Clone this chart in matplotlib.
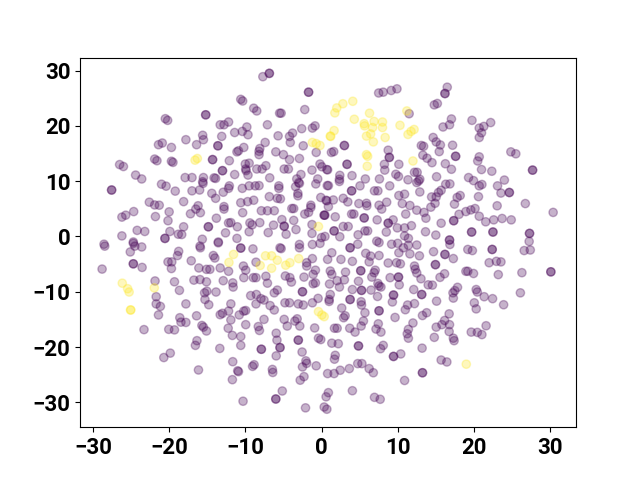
import numpy as np
import matplotlib
matplotlib.use("Agg")
import matplotlib.pyplot as plt

plt.rcParams['font.family'] = ['Roboto', 'DejaVu Sans']

# points, a pair listed twice is a darker dot
purple_upper_left = [
    (-6.85, 29.5), (-6.85, 29.5), (-7.7, 28.9), (-1.7, 26.1), (-1.7, 26.1), (-10.6, 24.8), (-10.35, 24.5),
    (-8.9, 23.2), (-8.5, 22.7), (-5.5, 22.3), (-5.3, 22.3), (-2.2, 22.95), (-15.2, 22.0), (-15.2, 22.0),
    (-20.5, 21.3), (-20.2, 21.0), (-13.3, 20.2), (-12.8, 20.2), (-12.2, 20.7), (-9.8, 19.8), (-7.1, 20.2),
    (-11.4, 18.8), (-10.4, 19.0), (-9.65, 18.4), (-5.7, 18.2), (-4.2, 18.1), (-3.8, 18.7), (-4.1, 17.0),
    (-2.6, 19.5), (-1.2, 19.6), (-0.85, 20), (-17.8, 17.5), (-15.6, 18.3), (-15.5, 17.5), (-13.1, 18.1),
    (-20.9, 16.9), (-21.4, 16.6), (-19.7, 16.1), (-16.4, 16.6), (-13.6, 16.4), (-13.6, 16.4), (-10.2, 16.1),
    (-10.9, 15.5), (-11.1, 15.3), (-7.4, 17.0), (-8.1, 15.9), (-8.2, 15.4), (-8.2, 14.8), (-6, 15.3),
    (-5, 14.8), (-4.2, 13.9), (-2.4, 16.4), (-0.7, 15.2), (-2.9, 14.1), (-21.9, 14.0), (-21.6, 13.7),
    (-19.7, 13.6), (-19.5, 13.4), (-14.3, 13.9), (-14.3, 13.9), (-12.1, 13.7), (-26.5, 13), (-26, 12.65),
    (-13, 11.9), (-13, 11.9), (-10, 13.1), (-9.5, 13.25), (-9.95, 12.2), (-9.9, 11.9), (-8.5, 12.2),
    (-7.8, 12.2), (-7.3, 12.8), (-4.9, 12.2), (-4.35, 12.2), (-0.2, 13.1), (0.05, 12.6), (-1.25, 12),
    (0.7, 12.1), (-11.4, 11.2), (-9.65, 11.1), (-24.4, 11.1), (-23.6, 10.4), (-17.9, 10.65), (-17, 10.65),
    (-15.5, 10.65), (-15.6, 9.9), (-15.55, 9.6), (-14.1, 10.6), (-13.9, 10.5), (-6.8, 10.6), (-3.25, 10.4),
    (-2.7, 11.2), (-3, 9.75), (-3.4, 9.0), (-2.9, 9.6), (-0.5, 10.4), (-0.75, 9.5), (0.75, 9.2),
    (-21, 9.45), (-20.4, 9.1), (-19.2, 8.2), (-17, 8.25), (-16, 8.4), (-27.55, 8.4), (-27.55, 8.4),
    (-12.1, 9.15), (-12.2, 8.7), (-10.4, 8.7), (-9.5, 9.15), (-8.7, 9.15), (-8.2, 9.2), (-5.6, 9.15),
    (-5.6, 8.7), (-14.4, 7.8), (-13.9, 6.9), (-12.9, 8), (-6.85, 7.2), (-5.8, 6.9), (-5.4, 6.8),
    (-3.1, 7.8), (-3.1, 7.35), (-0.1, 7.05), (0.6, 6.55), (-18.1, 6.3), (-22.6, 6.2), (-21.9, 5.7),
    (-21.3, 5.65), (-16.2, 5.55), (-16.5, 4.95), (-15.9, 4.3), (-12.8, 5.4), (-12.8, 4.95), (-10.6, 6.1),
    (-9.7, 6.3), (-8.9, 6.55), (-3.9, 5.05), (-3.65, 5.05), (-1.4, 5.65), (-1.4, 5.25), (-1.7, 4.35),
    (-2.2, 4.05), (0.9, 5.4), (0.35, 3.85), (0.35, 3.85), (-7.9, 4.65), (-7.1, 4.65), (-6.2, 4.65),
    (-24.65, 4.5), (-25.7, 3.85), (-26.2, 3.5), (-20, 4.45), (-21.8, 3.6), (-20.15, 2.85), (-17.2, 4.1),
    (-10.35, 4.3), (-13.8, 3.3), (-5.2, 3.05), (-3.65, 2.9), (-12.2, 2.45), (-11.9, 2.5), (-9.4, 2.45),
    (-9.1, 2.1), (-8.1, 2.5), (-4.9, 1.85), (-4.9, 1.85), (-6.3, 2.05), (-1.25, 2.15), (-14.85, 1.75),
    (-14.85, 1.75), (-18.1, 1.75), (-11.05, 1.75), (-12.6, 0.65), (-9.5, 0.85), (-7, 0.7), (-4.65, 0.4),
    (-3.35, 1.25), (-1.25, 0.55), (-26.2, 0.1), (-24.2, 1.1), (-23.2, 0.9), (-19.9, 0.9), (-18.8, 0.4),
    (-18.35, 0.35), (-20.55, -0.35), (-20.55, -0.35), (-15.65, -0.5), (-11.1, -0.35), (-13.55, -1), (0, -0.2),
    (0.45, 0), (-24.7, -1), (-28.55, -1.4),
]
purple_upper_right = [
    (16.5, 27), (16.2, 25.85), (16.2, 25.85), (7.5, 25.95), (8.1, 26.1), (9.15, 26.4), (9.9, 26.7),
    (14.8, 23.8), (15.2, 24.05), (11.5, 22.2), (19.75, 21), (17.05, 21.25), (16.8, 20.2), (15.95, 19.8),
    (22.2, 20.6), (21.3, 19.9), (20.7, 19.6), (21.0, 18.75), (20.7, 17.9), (14.65, 17.9), (15.05, 17.1),
    (15.6, 16.55), (17.2, 16.5), (13.1, 16.45), (13.4, 16.3), (15.45, 15.35), (8.75, 15.6), (3, 16.45),
    (3, 16.45), (1.6, 15.35), (1.3, 15.2), (24.85, 15.3), (25.5, 14.95), (13.3, 14.7), (13.85, 14.15),
    (14.5, 13.35), (17.6, 14.5), (17.6, 14.5), (20.7, 14.4), (20.5, 13.65), (8.9, 14.3), (8.9, 14.3),
    (16.25, 13.15), (17.05, 12.15), (21, 12.1), (22.35, 11.8), (27.7, 12), (27.7, 12), (3.35, 13.05),
    (3.35, 13.05), (8.25, 13.05), (8.3, 12), (10.15, 13.05), (0.8, 12.05), (9.75, 11.25), (10.1, 10.85),
    (12.2, 11.6), (12.55, 11.6), (12.9, 10.35), (12.5, 9.75), (12.75, 10.05), (4, 11), (2.4, 11.05),
    (2.35, 10.35), (2.35, 9.95), (5.75, 10.4), (7.6, 10.4), (11.35, 10.25), (15.1, 10.8), (19.3, 10.65),
    (19.95, 10.1), (20.7, 9.15), (21.05, 9.4), (24, 10.2), (23.1, 9.15), (23.55, 7.85), (24.65, 7.95),
    (24.65, 7.95), (16.3, 9.45), (16.85, 9.5), (5.05, 9.15), (8.95, 9.15), (0.9, 9.2), (3.95, 8.25),
    (3.95, 8.25), (6.95, 8.25), (7.4, 8.25), (12.9, 8.05), (15.7, 8.35), (15.35, 7.95), (15.05, 7.15),
    (10.15, 7.4), (10.9, 7.65), (18.2, 7.4), (17.8, 7.05), (20.6, 7.2), (1.55, 6.6), (0.7, 6.45),
    (2.85, 6.9), (3.45, 6.25), (4.9, 5.95), (5.9, 6), (5.95, 5.55), (7.55, 5.65), (7.9, 4.95),
    (8.55, 6.2), (10.6, 5.95), (11.6, 5.6), (12.5, 4.75), (14.45, 7.15), (14.9, 6), (14.35, 5.3),
    (17.45, 5.85), (23.05, 5.55), (26.75, 5.95), (13.45, 4.35), (13.7, 3.3), (11.05, 4.05), (30.4, 4.35),
    (0.45, 3.85), (1.8, 3.55), (3.95, 4.05), (4.25, 4.05), (5.6, 3.35), (5.6, 3.35), (7.3, 3),
    (8.75, 2.4), (8.75, 2.4), (9.4, 3), (18.05, 4), (18.95, 4.5), (19.6, 4.8), (20.15, 5.05),
    (20.7, 3.65), (21.55, 2.65), (22.6, 3), (23.7, 3.25), (24.9, 3), (17.35, 2.85), (17.35, 2.85),
    (15.7, 2.4), (9.95, 1.55), (10.9, 1.55), (11.8, 1.95), (2.85, 1.8), (3.5, 1.8), (1.65, 1),
    (1.65, 1), (5.7, 1), (6.05, 1), (8.5, 0.8), (13.65, 0.85), (15, 0.25), (19.7, 0.8),
    (19.7, 0.8), (22.5, 0.8), (22.5, 0.8), (27.3, 0.55), (27.3, 0.55), (4.8, 0.3), (10.9, 0.1),
    (11.4, -0.35), (2.4, -0.05), (16.8, -0.65), (16.8, -0.65), (7.25, -0.85), (7.55, -1.1), (27.25, -0.9),
]
purple_lower_left = [
    (-28.45, -1.75), (-24.7, -1.25), (-25.1, -2.8), (-24.5, -1.75), (-23.6, -1.9), (-24.7, -4.95), (-24.7, -4.95),
    (-23.55, -5.6), (-28.8, -5.9), (-15.95, -1.75), (-15.9, -2.05), (-13.55, -1.15), (-18.75, -2.7), (-18.9, -3.45),
    (-20.15, -4.6), (-19.65, -4.6), (-19.7, -5.8), (-17.1, -4.4), (-14.2, -3.45), (-14, -3.9), (-10.6, -2.1),
    (-10.6, -2.1), (-9, -2.25), (-16.1, -5.7), (-15.1, -5.95), (-14.65, -5.95), (-13.3, -5.7), (-12.2, -6.3),
    (-10.25, -5.35), (-9.95, -6.1), (-8.6, -4.65), (-10.2, -7.45), (-8.95, -7.45), (-8.6, -7.45), (-7.3, -7.2),
    (-16.75, -7.9), (-15.95, -7.8), (-15.1, -8.2), (-12.9, -8), (-11.65, -8.4), (-11.6, -9.15), (-19.3, -8.2),
    (-21.85, -8.05), (-18.65, -9.75), (-4.75, -7.15), (-4.15, -7.45), (-3.95, -8.25), (-7.1, -8.45), (-2.3, -7.35),
    (-1.95, -4.75), (-1.95, -5.35), (-1.2, -4), (-0.8, -6.1), (-1.1, -6.85), (-1.1, -8.55), (-0.8, -8.4),
    (-5.45, -2.05), (-5.3, -2.2), (-2.9, -1.45), (-2.9, -2.05), (-1.2, -1.45), (-0.2, -1.25), (-2.5, -10),
    (-2.5, -10), (-5.8, -9.7), (-6.2, -10.2), (-15.35, -10.2), (-15.05, -9.9), (-15.3, -11.4), (-13.85, -10.05),
    (-21.7, -10.9), (-21.7, -12.2), (-21.15, -12.65), (-17.8, -12.2), (-14.8, -12.35), (-11.9, -12.2), (-12.2, -13.5),
    (-13, -13.9), (-13.3, -14.15), (-9.3, -10.7), (-8.55, -10.5), (-7.95, -11.25), (-7.55, -11.5), (-8.6, -12.2),
    (-6.75, -12.5), (-6.2, -13.3), (-4.8, -12), (-4.2, -12), (-3.05, -12.2), (-2.4, -12.4), (-1.2, -12),
    (-0.45, -11.2), (-21.4, -14.2), (-16.4, -14.35), (-18.6, -14.7), (-18.45, -15.5), (-17.8, -15.55), (-15.7, -16.1),
    (-15.5, -16.4), (-15.1, -17.1), (-11.9, -15.1), (-10.8, -14.2), (-10.2, -13.5), (-9.95, -13.4), (-9.95, -15.95),
    (-7.55, -15), (-4.9, -15), (-4.5, -16.2), (-3.5, -15.3), (-3.2, -14.9), (-2.85, -16.2), (-8.3, -16.3),
    (-8.15, -17), (-12.25, -16.6), (-23.3, -16.85), (-20.05, -16.8), (-19.3, -16.9), (-11.7, -17.9), (-10.6, -18.1),
    (-16.35, -18.85), (-16.55, -19.7), (-13.35, -20.25), (-10.6, -19.7), (-5.95, -17.5), (-5.85, -18.75), (-3.05, -18.75),
    (-3.05, -18.75), (-0.9, -16.55), (-0.4, -18.4), (-0.1, -18.65), (-7.9, -20.4), (-7.9, -20.4), (-5.45, -20.1),
    (-5.45, -20.1), (-5.95, -21.6), (-2.55, -20.9), (-19.85, -21.1), (-20.7, -21.9), (-11.65, -22.65), (-16.15, -24.15),
    (-11, -24.3), (-10.9, -24.45), (-8.85, -23.2), (-9.05, -23.5), (-6.45, -24.05), (-6.4, -24.6), (-2.05, -22.5),
    (-1.95, -22.95), (-2.5, -23.6), (-0.7, -23.4), (-2.3, -25.35), (-2.8, -26), (-11.7, -25.9), (-5.15, -27.95),
    (-10.3, -29.8), (-6, -29.4), (-6, -29.4), (-2.1, -31), (0.35, -30.85), (0.7, -31.25), (0.9, -28.25),
    (0.6, -29),
]
purple_lower_right = [
    (4.75, -1.4), (3.75, -2.05), (3.75, -2.05), (9.2, -1.4), (10, -1.25), (10.75, -2.05), (11.4, -1.6),
    (12.5, -1.55), (10.15, -2.95), (11.6, -3.15), (12.85, -3.5), (14.7, -2.75), (16.85, -1.45), (16.2, -3.25),
    (16.2, -3.25), (17.3, -4), (19.2, -2.35), (19.8, -2.55), (22.4, -2.35), (22.4, -2.35), (26.6, -2.55),
    (27.4, -2.45), (1.35, -2.95), (0.8, -4.15), (2.55, -4.15), (4.05, -4.5), (5.8, -3.05), (6.45, -3.55),
    (6.25, -4.6), (7.55, -3.45), (8.75, -4.8), (9.85, -4.75), (10.35, -4.95), (12.2, -5.35), (12.3, -5.95),
    (14.95, -5.1), (14.95, -5.1), (22, -4.75), (22.95, -4.5), (23.55, -4.6), (1.15, -6.25), (1.35, -6.85),
    (3.15, -6.45), (5.15, -6.2), (5.15, -6.2), (7.05, -6.1), (6.9, -6.55), (6.6, -7.35), (9, -7.45),
    (10.1, -7.35), (10.1, -7.35), (12.5, -6.6), (13.05, -7.65), (16.15, -6.75), (15.55, -7.4), (18.95, -6.3),
    (19.2, -6.3), (19.95, -6.7), (23.2, -6.9), (26.3, -6.55), (30.1, -6.4), (30.1, -6.4), (4.85, -8.1),
    (2.05, -8), (3, -7.85), (1.05, -8.6), (2.35, -9.15), (4.05, -9.6), (5.25, -9.75), (5.25, -9.75),
    (6.5, -9.7), (7.4, -8.5), (7.8, -9.15), (7.55, -8.95), (10.2, -8.75), (14, -8.75), (14.55, -8.8),
    (12.1, -9.6), (13.15, -10.5), (13.15, -10.5), (17.85, -9.2), (17.5, -9.8), (17.25, -10.2), (17.3, -11.15),
    (20.3, -9.6), (20.45, -10.05), (21.35, -10.9), (22.45, -11.25), (26.1, -10.2), (23.9, -12.35), (20.05, -12),
    (20.3, -13.1), (15.1, -11.7), (1.15, -10.5), (1, -11.4), (1, -11.75), (3.75, -11.4), (3.75, -11.4),
    (7.35, -10.85), (9.45, -10.6), (9.45, -10.6), (9.3, -11.85), (5.2, -11.8), (5.25, -12.4), (11.3, -12.4),
    (11, -13.25), (12.2, -12.15), (2.65, -12.95), (5.7, -13.8), (7.55, -13.45), (7.55, -13.45), (3.1, -14.35),
    (2.9, -14.7), (9.65, -14.65), (16.75, -14), (13.8, -13.8), (13.25, -14.3), (5.5, -15.3), (5.2, -16.2),
    (7.45, -15.8), (7.15, -16.75), (7.8, -17.3), (16.15, -15.2), (15.8, -15.95), (16.8, -15.95), (15.05, -16.4),
    (12, -15.65), (11.4, -16.8), (11.25, -17.6), (11.4, -18.4), (21.6, -16.15), (19.65, -17.3), (20.45, -17.35),
    (21.05, -17.75), (16.75, -17.2), (14.8, -18.25), (17.3, -18.4), (17.4, -18.85), (1.7, -16.6), (2.05, -16.6),
    (3.7, -16.6), (4.4, -17.3), (1.35, -19.3), (2.2, -19.4), (4.85, -19.8), (4.85, -19.8), (8.1, -19.7),
    (7.75, -20.3), (13.2, -20.2), (10.4, -21.25), (9.45, -21.7), (9.45, -21.7), (1.8, -21.5), (1.7, -22.2),
    (15.7, -22.35), (16.45, -22.7), (4.75, -23), (5.3, -23), (3.65, -23.9), (6.25, -23.9), (6.8, -24.65),
    (2.45, -24.2), (1.65, -24.8), (0.8, -24.8), (13.25, -24.65), (13.25, -24.65), (10.9, -26.05), (4.05, -27.9),
    (6.95, -29.1), (7.7, -29.45),
]
yellow_points = [
    (-1.2, 17), (-0.7, 16.8), (-0.2, 16.45), (-16.3, 14.1), (-16.6, 13.8), (-0.4, 1.8), (1.2, 18.1),
    (4.1, 24.45), (2.8, 24), (2, 23.25), (1.75, 22.35), (6.3, 22.3), (4.3, 21.2), (11.2, 22.7),
    (5.6, 20.4), (5.65, 20), (6.9, 20.8), (6.7, 19.7), (8, 20.7), (8, 19.7), (10.3, 20.1),
    (12.15, 19.35), (11.75, 19), (11.35, 18.45), (1.65, 19.15), (1.15, 18.15), (5.9, 18.15), (6.45, 18.55),
    (8.35, 17.9), (6.8, 17.1), (5.9, 14.8), (6.05, 14.5), (6, 12.7), (12, 13.65), (-11.55, -3.25),
    (-12.15, -4.7), (-7.35, -3.5), (-6.55, -3.5), (-5.8, -4.3), (-8.05, -5.25), (-6.55, -5.75), (-4.7, -5.2),
    (-4.15, -4.75), (-3, -4), (-26.15, -8.45), (-25.45, -9.45), (-25.25, -10.05), (-21.95, -9.3), (-25.05, -13.3),
    (-25.05, -13.3), (-0.4, -13.6), (0.05, -14.2), (0.35, -14.5), (19, -23.1),
]
x_ticks = [-30, -20, -10, 0, 10, 20, 30]
y_ticks = [-30, -20, -10, 0, 10, 20, 30]

purple = np.array(purple_upper_left + purple_upper_right + purple_lower_left + purple_lower_right)
yellow = np.array(yellow_points)
pts = np.vstack([purple, yellow])
labels = np.r_[np.zeros(len(purple)), np.ones(len(yellow))]

fig, ax = plt.subplots(figsize=(6.4, 4.8), dpi=100)
ax.scatter(pts[:, 0], pts[:, 1], c=labels, cmap='viridis', alpha=0.3)
ax.set_xlim(-31.7, 33.4)
ax.set_ylim(-34.5, 32.35)
ax.set_xticks(x_ticks)
ax.set_yticks(y_ticks)
ax.tick_params(labelsize=16)
for t in ax.get_xticklabels() + ax.get_yticklabels():
    t.set_fontweight('bold')
fig.savefig('out.png', dpi=100)
